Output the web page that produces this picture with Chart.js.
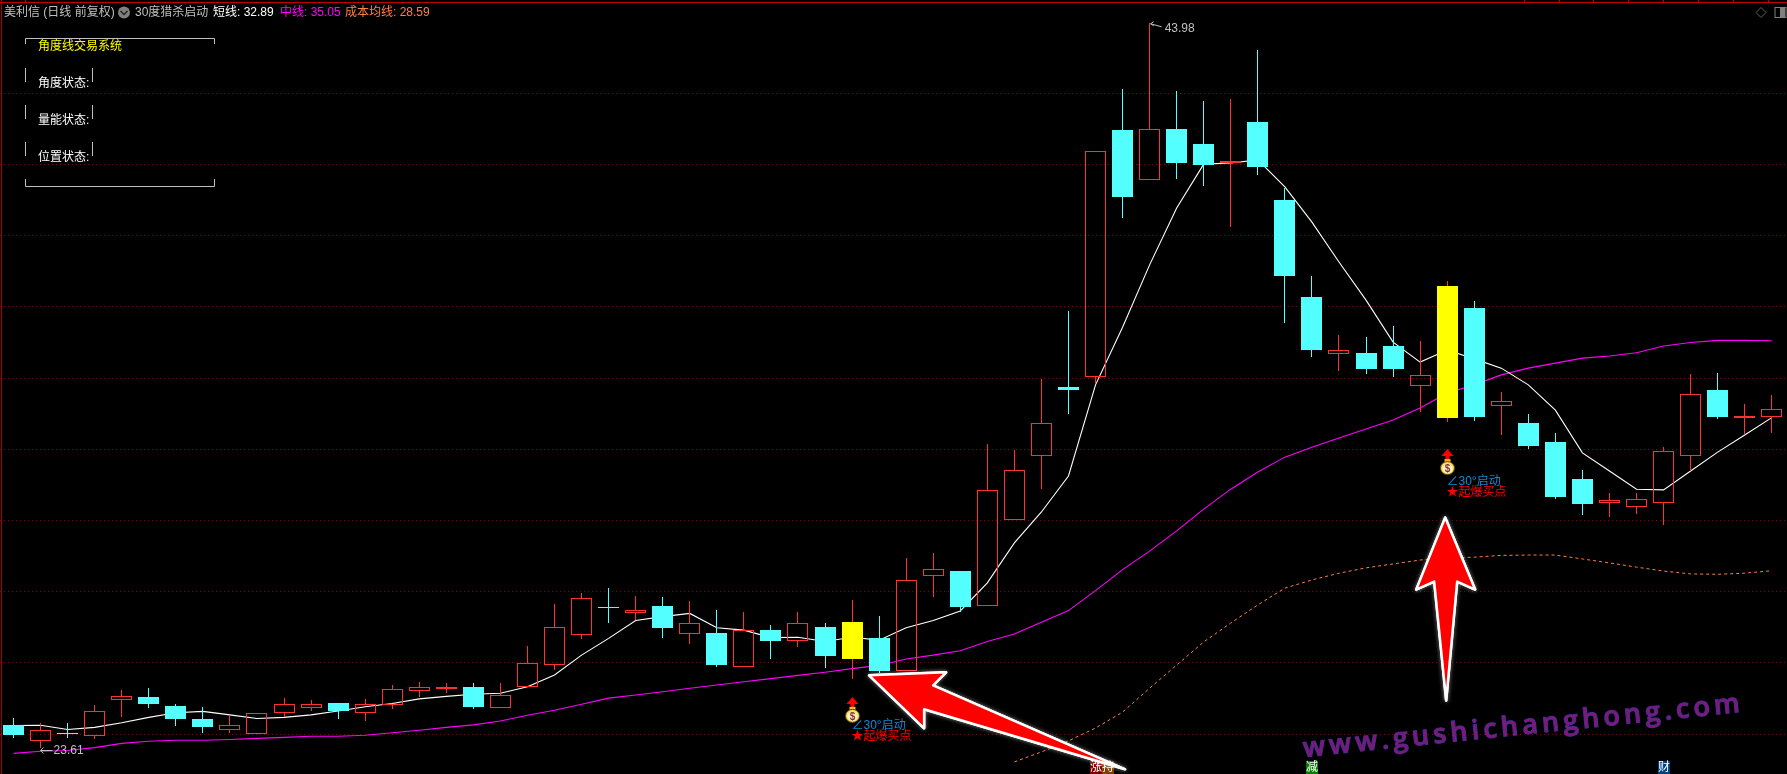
<!DOCTYPE html>
<html>
<head>
<meta charset="utf-8">
<title>美利信</title>
<style>
  html, body { margin: 0; padding: 0; background: #000; overflow: hidden; }
  canvas { display: block; }
</style>
<script src="https://cdn.jsdelivr.net/npm/chart.js@4"></script>
</head>
<body>
<canvas id="myChart" width="1787" height="774"></canvas>
<script>
var opens = [24.26, 23.81, 24.03, 23.95, 24.97, 25.04, 24.79, 24.42, 24.12, 24.01, 24.60, 24.74, 24.87, 24.60, 24.83, 25.22, 25.28, 25.32, 24.74, 25.33, 25.95, 26.79,
  27.57, 27.41, 27.60, 26.82, 26.84, 25.89, 26.92, 26.62, 27.01, 26.11, 26.70, 25.78, 28.43, 28.58, 27.59, 30.01, 31.80, 33.75, 34.02, 40.97, 39.57, 41.00,
  40.58, 40.04, 41.19, 39.00, 36.28, 34.69, 34.70, 34.90, 33.79, 32.88, 35.97, 33.22, 32.74, 32.20, 31.17, 30.50, 30.39, 30.50, 31.82, 33.67, 32.88, 32.91];
var closes = [23.97, 24.11, 24.02, 24.64, 25.07, 24.85, 24.42, 24.20, 24.25, 24.58, 24.86, 24.84, 24.65, 24.84, 25.26, 25.31, 25.32, 24.76, 25.09, 25.99, 27.00, 27.81,
  27.56, 27.48, 26.98, 27.11, 25.94, 26.92, 26.61, 27.11, 26.19, 27.15, 25.77, 28.32, 28.63, 27.58, 30.85, 31.41, 32.73, 33.67, 40.37, 39.09, 40.99, 40.04,
  39.99, 40.10, 39.93, 36.87, 34.79, 34.79, 34.26, 34.26, 34.08, 36.59, 32.91, 33.35, 32.09, 30.66, 30.46, 30.57, 30.60, 31.94, 33.54, 32.91, 32.94, 33.13];
var highs = [24.45, 24.30, 24.31, 24.82, 25.24, 25.29, 24.85, 24.76, 24.51, 24.58, 25.01, 24.96, 24.87, 24.99, 25.38, 25.46, 25.44, 25.44, 25.44, 26.47, 27.65, 27.96,
  28.10, 27.88, 27.85, 27.74, 27.49, 27.43, 27.06, 27.43, 27.12, 27.77, 27.32, 28.95, 29.09, 28.58, 32.15, 31.98, 33.97, 35.88, 40.37, 42.12, 43.98, 42.06,
  41.78, 41.84, 43.22, 39.35, 36.87, 35.21, 35.15, 35.46, 35.04, 36.73, 36.17, 33.61, 32.99, 32.46, 31.42, 30.77, 30.77, 32.06, 34.11, 34.14, 33.27, 33.52];
var lows = [23.90, 23.61, 23.90, 23.86, 24.48, 24.73, 24.24, 24.03, 24.03, 24.01, 24.47, 24.66, 24.42, 24.37, 24.70, 25.04, 25.15, 24.70, 24.74, 25.33, 25.80, 26.67,
  27.13, 27.20, 26.70, 26.54, 25.89, 25.89, 26.11, 26.45, 25.86, 25.55, 25.72, 25.78, 27.86, 27.44, 27.59, 30.01, 30.89, 33.00, 33.85, 38.50, 39.57, 39.59,
  39.40, 38.24, 39.70, 35.56, 34.59, 34.20, 34.11, 34.03, 33.05, 32.77, 32.79, 32.40, 32.01, 30.60, 30.15, 30.10, 30.18, 29.87, 31.39, 32.85, 32.43, 32.46];

var shortLine = [24.24, 24.25, 24.13, 24.19, 24.32, 24.47, 24.60, 24.64, 24.54, 24.44, 24.47, 24.54, 24.65, 24.77, 24.86, 24.99, 25.06, 25.12, 25.15, 25.33, 25.66, 26.22,
  26.69, 27.19, 27.30, 27.39, 26.99, 26.92, 26.71, 26.72, 26.60, 26.72, 26.64, 26.99, 27.19, 27.46, 28.25, 29.37, 30.24, 31.25, 33.81, 35.43, 37.18, 38.78,
  40.01, 40.04, 40.13, 39.37, 38.38, 37.26, 36.19, 35.01, 34.45, 34.79, 34.54, 34.28, 33.81, 33.10, 31.90, 31.39, 30.88, 30.86, 31.39, 31.92, 32.40, 32.89];
var midLine = [23.46, 23.52, 23.54, 23.62, 23.74, 23.80, 23.83, 23.83, 23.85, 23.88, 23.91, 23.94, 23.94, 23.97, 24.04, 24.11, 24.19, 24.26, 24.37, 24.53, 24.67, 24.84,
  25.01, 25.10, 25.19, 25.29, 25.38, 25.47, 25.56, 25.65, 25.74, 25.84, 25.93, 26.11, 26.22, 26.34, 26.60, 26.81, 27.14, 27.47, 28.03, 28.62, 29.14, 29.71,
  30.32, 30.88, 31.36, 31.78, 32.06, 32.32, 32.57, 32.82, 33.16, 33.58, 33.81, 34.09, 34.28, 34.42, 34.56, 34.62, 34.71, 34.90, 35.00, 35.06, 35.06, 35.05];
var costLine = [null, null, null, null, null, null, null, null, null, null, null, null, null, null, null, null, null, null, null, null, null, null,
  null, null, null, null, null, null, null, null, null, null, null, null, null, null, null, 23.22, 23.50, 23.81, 24.17, 24.62, 25.29, 25.94,
  26.59, 27.12, 27.63, 28.10, 28.33, 28.52, 28.67, 28.78, 28.89, 28.95, 28.97, 29.02, 29.03, 29.03, 28.92, 28.81, 28.69, 28.58, 28.50, 28.49, 28.52, 28.59];

var categories = opens.map(function(v, i) { return i; });
var yTicks = [24, 26, 28, 30, 32, 34, 36, 38, 40, 42];
var yMin = 22.88;
var yMax = 44.62;

// candles painted yellow, and where their markers sit
var signalCandles = [31, 53];
var signalBagPrice = [24.54, 31.50];
var signalTextPrice = [24.24, 31.08];

var RED = '#ff3232';
var CYAN = '#54ffff';
var YELLOW = '#ffff00';

function isUp(i) { return closes[i] >= opens[i]; }
function candleColor(i) { return isUp(i) ? RED : CYAN; }
function bodyFill(i) {
  if (signalCandles.indexOf(i) >= 0) return YELLOW;
  return isUp(i) ? 'rgba(0,0,0,0)' : CYAN;
}
function bodyBorder(i) {
  if (signalCandles.indexOf(i) >= 0) return YELLOW;
  return candleColor(i);
}

var upperWick = categories.map(function(i) { return [Math.max(opens[i], closes[i]), highs[i]]; });
var lowerWick = categories.map(function(i) { return [lows[i], Math.min(opens[i], closes[i])]; });
var bodies = categories.map(function(i) { return [opens[i], closes[i]]; });

// keeps the bars on whole pixels, the source chart is not antialiased
var snapCandles = {
  id: 'snapCandles',
  afterDatasetsUpdate: function(chart) {
    chart.data.datasets.forEach(function(ds, d) {
      if (ds.type !== 'bar') return;
      chart.getDatasetMeta(d).data.forEach(function(el) {
        el.x = Math.floor(el.x) + 0.5;
        el.y = Math.round(el.y);
        el.base = Math.round(el.base);
        if (ds.label === 'body' && Math.abs(el.y - el.base) < 1) el.base = el.y + 1;
      });
    });
  }
};

function text(ctx, str, x, y, color, font) {
  ctx.font = font || '12px "Liberation Sans", "Noto Sans CJK SC"';
  ctx.fillStyle = color;
  ctx.textBaseline = 'middle';
  ctx.textAlign = 'left';
  ctx.fillText(str, x, y);
}

function line(ctx, pts, color, width) {
  ctx.strokeStyle = color;
  ctx.lineWidth = width || 1;
  ctx.beginPath();
  pts.forEach(function(p, i) {
    if (i === 0) ctx.moveTo(p[0], p[1]); else ctx.lineTo(p[0], p[1]);
  });
  ctx.stroke();
}

var frame = {
  id: 'frame',
  beforeDatasetsDraw: function(chart) {
    var ctx = chart.ctx;
    ctx.save();
    ctx.fillStyle = '#a80000';
    ctx.fillRect(1, 0, 1, 774);
    ctx.fillStyle = '#c00000';
    ctx.fillRect(0, 2, 1787, 1);
    [25, 1524, 1559, 1593, 1628, 1663, 1698, 1733, 1768].forEach(function(x) {
      ctx.fillRect(x, 0, 1, 2);
    });
    ctx.restore();
  }
};

function drawHeader(ctx) {
  text(ctx, '美利信 (日线 前复权)', 4, 13, '#c0c0c0');
  ctx.fillStyle = '#808080';
  ctx.beginPath();
  ctx.arc(124, 12.5, 6, 0, Math.PI * 2);
  ctx.fill();
  line(ctx, [[120.5, 11], [124, 14.5], [127.5, 11]], '#222', 1.5);
  text(ctx, '30度猎杀启动', 135, 13, '#c0c0c0');
  text(ctx, '短线: 32.89', 213, 13, '#ffffff');
  text(ctx, '中线: 35.05', 280, 13, '#ff00ff');
  text(ctx, '成本均线: 28.59', 345, 13, '#ff8040');

  line(ctx, [[25.5, 44], [25.5, 38.5], [214.5, 38.5], [214.5, 44]], '#c0c0c0');
  line(ctx, [[25.5, 179], [25.5, 186.5], [214.5, 186.5], [214.5, 179]], '#c0c0c0');
  [68, 105, 142].forEach(function(y) {
    line(ctx, [[25.5, y], [25.5, y + 14]], '#c0c0c0');
    line(ctx, [[92.5, y], [92.5, y + 14]], '#c0c0c0');
  });
  text(ctx, '角度线交易系统', 38, 47, '#ffff00');
  text(ctx, '角度状态:', 38, 84, '#ffffff');
  text(ctx, '量能状态:', 38, 121, '#ffffff');
  text(ctx, '位置状态:', 38, 158, '#ffffff');

  // top right buttons
  line(ctx, [[1761, 7.5], [1766, 12.5], [1761, 17.5], [1756, 12.5], [1761, 7.5]], '#606060');
  ctx.strokeStyle = '#808080';
  ctx.strokeRect(1775, 7.5, 11, 10);
  ctx.fillStyle = '#808080';
  ctx.fillRect(1780, 8, 5, 9);
}

function drawExtremes(ctx, xs, ys) {
  var hx = xs.getPixelForValue(42);
  var hy = ys.getPixelForValue(43.98);
  line(ctx, [[hx + 1, hy + 1], [hx + 12, hy + 4]], '#c0c0c0');
  line(ctx, [[hx + 4, hy - 1], [hx + 1, hy + 1], [hx + 4, hy + 3]], '#c0c0c0');
  text(ctx, '43.98', hx + 15, hy + 6, '#c0c0c0');

  var lx = xs.getPixelForValue(1);
  var ly = ys.getPixelForValue(23.61);
  line(ctx, [[lx, ly + 2.5], [lx + 12, ly + 2.5]], '#c0c0c0');
  line(ctx, [[lx + 3, ly - 0.5], [lx, ly + 2.5], [lx + 3, ly + 5.5]], '#c0c0c0');
  text(ctx, '23.61', lx + 13, ly + 3, '#c0c0c0');
}

function drawBag(ctx, x, y) {
  // red up arrow
  ctx.fillStyle = '#ff0000';
  ctx.beginPath();
  ctx.moveTo(x, y - 18);
  ctx.lineTo(x + 6, y - 11);
  ctx.lineTo(x + 2, y - 11);
  ctx.lineTo(x + 2, y - 8);
  ctx.lineTo(x - 2, y - 8);
  ctx.lineTo(x - 2, y - 11);
  ctx.lineTo(x - 6, y - 11);
  ctx.closePath();
  ctx.fill();
  // money bag
  ctx.fillStyle = '#f0c020';
  ctx.fillRect(x - 3, y - 8, 6, 4);
  ctx.fillStyle = '#ffe060';
  ctx.strokeStyle = '#5a4010';
  ctx.beginPath();
  ctx.ellipse(x, y + 1, 7, 6.5, 0, 0, Math.PI * 2);
  ctx.fill();
  ctx.stroke();
  ctx.fillStyle = '#fff6c8';
  ctx.beginPath();
  ctx.ellipse(x, y + 1.5, 5, 4.5, 0, 0, Math.PI * 2);
  ctx.fill();
  ctx.textAlign = 'center';
  ctx.textBaseline = 'middle';
  ctx.font = 'bold 10px "Liberation Sans"';
  ctx.fillStyle = '#8a3030';
  ctx.fillText('$', x, y + 2);
  ctx.textAlign = 'left';
}

function drawSignals(ctx, xs, ys) {
  signalCandles.forEach(function(idx, k) {
    var x = Math.floor(xs.getPixelForValue(idx)) + 0.5;
    drawBag(ctx, x, ys.getPixelForValue(signalBagPrice[k]));
    var ty = ys.getPixelForValue(signalTextPrice[k]);
    text(ctx, '∠30°启动', x - 1, ty, '#1088d8');
    text(ctx, '★起爆买点', x - 1, ty + 11, '#ff0000');
  });
}

function drawTags(ctx, xs) {
  var tags = [[40, '涨', '#800000'], [40.45, '持', '#804000'], [48, '减', '#008000'], [61, '财', '#004080']];
  tags.forEach(function(t) {
    var x = Math.round(xs.getPixelForValue(t[0])) - 6;
    ctx.fillStyle = t[2];
    ctx.fillRect(x, 761, 12, 13);
    text(ctx, t[1], x, 767.5, '#ffffff');
  });
}

function drawWatermark(ctx) {
  ctx.save();
  ctx.translate(1304, 757);
  ctx.rotate(-5.9 * Math.PI / 180);
  ctx.font = '600 27px "Open Sans"';
  ctx.letterSpacing = '4.2px';
  ctx.textBaseline = 'alphabetic';
  ctx.textAlign = 'left';
  ctx.lineWidth = 1.2;
  ctx.strokeStyle = '#33339a';
  ctx.strokeText('www.gushichanghong.com', 0, 0);
  ctx.fillStyle = '#7a1a7a';
  ctx.fillText('www.gushichanghong.com', 0, 0);
  ctx.restore();
}

// big pointers, offsets in px from a spot on the chart
var pointers = [
  { candle: 32, price: 25.68, dx: -11, shape: [[1, 1], [78, -2], [65, 11], [257, 95], [56, 35], [56, 54]] },
  { candle: 53, price: 30.11, dx: -2, shape: [[0, 1], [30, 73], [12, 65], [1, 184], [-11, 65], [-29, 73]] }
];

function drawPointers(ctx, xs, ys) {
  pointers.forEach(function(a) {
    var x0 = xs.getPixelForValue(a.candle) + a.dx;
    var y0 = ys.getPixelForValue(a.price);
    ctx.save();
    ctx.beginPath();
    a.shape.forEach(function(p, i) {
      if (i === 0) ctx.moveTo(x0 + p[0], y0 + p[1]); else ctx.lineTo(x0 + p[0], y0 + p[1]);
    });
    ctx.closePath();
    ctx.lineJoin = 'round';
    ctx.shadowColor = 'rgba(255,255,255,0.6)';
    ctx.shadowBlur = 4;
    ctx.lineWidth = 2.5;
    ctx.strokeStyle = '#ffffff';
    ctx.stroke();
    ctx.shadowBlur = 0;
    ctx.fillStyle = '#ff0000';
    ctx.fill();
    ctx.stroke();
    ctx.restore();
  });
}

var overlay = {
  id: 'overlay',
  afterDraw: function(chart) {
    var ctx = chart.ctx;
    var xs = chart.scales.x;
    var ys = chart.scales.y;
    ctx.save();
    drawHeader(ctx);
    drawExtremes(ctx, xs, ys);
    drawSignals(ctx, xs, ys);
    drawTags(ctx, xs);
    drawWatermark(ctx);
    drawPointers(ctx, xs, ys);
    ctx.restore();
  }
};

function barSet(label, data, thickness, order, fill, border, borderWidth) {
  return {
    type: 'bar',
    label: label,
    data: data,
    barThickness: thickness,
    order: order,
    backgroundColor: fill,
    borderColor: border,
    borderWidth: borderWidth,
    borderSkipped: false,
    inflateAmount: 0
  };
}

function lineSet(label, data, color, dash, width) {
  return {
    type: 'line',
    label: label,
    data: data,
    order: 3,
    borderColor: color,
    borderWidth: width || 1.1,
    borderDash: dash || [],
    pointRadius: 0,
    tension: 0,
    spanGaps: false
  };
}

var ctx = document.getElementById('myChart').getContext('2d');
var myChart = new Chart(ctx, {
  data: {
    labels: categories,
    datasets: [
      lineSet('短线', shortLine, '#ffffff'),
      lineSet('中线', midLine, '#ff00ff'),
      lineSet('成本均线', costLine, '#ff8040', [3, 3], 1),
      barSet('upper', upperWick, 1, 2, categories.map(candleColor), categories.map(candleColor), 0),
      barSet('lower', lowerWick, 1, 2, categories.map(candleColor), categories.map(candleColor), 0),
      barSet('body', bodies, 21, 1, categories.map(bodyFill), categories.map(bodyBorder), 1)
    ]
  },
  options: {
    responsive: false,
    animation: false,
    events: [],
    layout: { padding: { left: 0, right: 1.7, top: 0, bottom: 0 } },
    plugins: { legend: { display: false }, tooltip: { enabled: false } },
    datasets: { bar: { grouped: false } },
    scales: {
      x: {
        type: 'category',
        offset: true,
        stacked: false,
        ticks: { display: false },
        grid: { display: false, drawTicks: false },
        border: { display: false }
      },
      y: {
        type: 'linear',
        min: yMin,
        max: yMax,
        afterBuildTicks: function(scale) {
          scale.ticks = yTicks.map(function(v) { return { value: v }; });
        },
        ticks: { display: false },
        grid: { color: '#8a0000', lineWidth: 1, drawTicks: false },
        border: { display: false, dash: [1, 3] }
      }
    }
  },
  plugins: [snapCandles, frame, overlay]
});
</script>
</body>
</html>
